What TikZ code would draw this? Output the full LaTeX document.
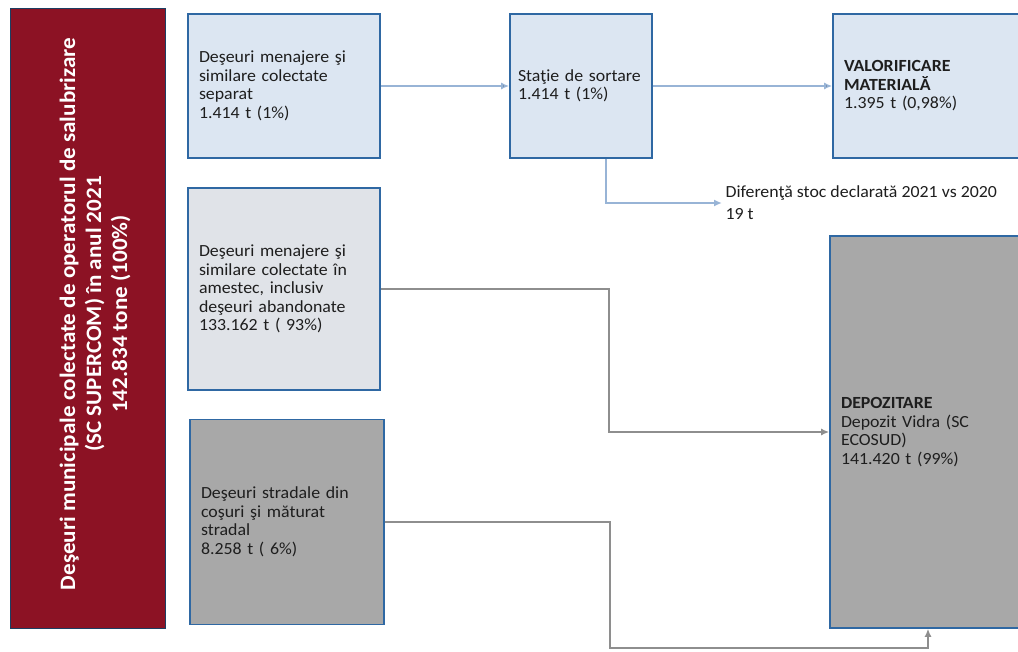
\documentclass[tikz,border=0pt]{standalone}
\usepackage{fontspec}
\setmainfont{Carlito}[FakeStretch=1.05]
\usetikzlibrary{shapes,arrows,calc,arrows.meta}
\usetikzlibrary{positioning}

\definecolor{totalred}{HTML}{8C1224}
\definecolor{boxline}{HTML}{2F68A3}
\definecolor{lightfill}{HTML}{DCE6F2}
\definecolor{mixfill}{HTML}{E0E3E8}
\definecolor{grayfill}{HTML}{A8A8A8}
\definecolor{blueflow}{HTML}{98B4D6}
\definecolor{grayflow}{HTML}{8E8E8E}
\definecolor{textgray}{HTML}{1E1E1E}

\begin{document}
\begin{tikzpicture}[x=1pt,y=-1pt,
    box/.style={rectangle, draw=boxline, line width=1.6pt, inner xsep=11pt,
        align=left, text=textgray, font=\fontsize{17}{18.5}\selectfont},
    lightbox/.style={box, fill=lightfill},
    mixbox/.style={box, fill=mixfill},
    graybox/.style={box, fill=grayfill},
    total/.style={rectangle, fill=totalred, draw=boxline!60!black, line width=0.8pt},
    totaltext/.style={text=white, align=center, font=\bfseries\fontsize{22}{26}\selectfont},
    blueline/.style={draw=blueflow, line width=2.6pt, -{Latex[length=8pt,width=7pt]}},
    grayline/.style={draw=grayflow, line width=2.4pt, -{Latex[length=8pt,width=7pt]}}]
            \useasboundingbox (0,0) rectangle (1018,652);
            \draw (87.5,318) node[total, minimum width=155pt, minimum height=620pt] (total) {};
            \draw (95,314) node[totaltext, rotate=90] (totaltxt)
                {Deşeuri municipale colectate de operatorul de salubrizare\\(SC SUPERCOM) în anul 2021\\142.834 tone (100\%)};
            \draw (284,86) node[lightbox, text width=170pt, minimum height=144pt] (sep)
                {Deşeuri menajere şi\\similare colectate\\separat\\1.414 t (1\%)};
            \draw (284,289) node[mixbox, text width=170pt, minimum height=202pt] (mix)
                {Deşeuri menajere şi\\similare colectate în\\amestec, inclusiv\\deşeuri abandonate\\133.162 t ( 93\%)\\[6pt]};
            \draw (287,522) node[graybox, text width=172pt, minimum height=205pt] (str)
                {Deşeuri stradale din\\coşuri şi măturat\\stradal\\8.258 t ( 6\%)};
            \draw (581,86) node[lightbox, inner xsep=8pt, text width=126pt, minimum height=144pt] (sort)
                {Staţie de sortare\\1.414 t (1\%)};
            \draw (927.5,86) node[lightbox, text width=167pt, minimum height=144pt] (val)
                {\textbf{VALORIFICARE}\\\textbf{MATERIALĂ}\\1.395 t (0,98\%)};
            \draw (926,432) node[graybox, text width=170pt, minimum height=392pt] (dep)
                {\textbf{DEPOZITARE}\\Depozit Vidra (SC\\ECOSUD)\\141.420 t (99\%)};
            \draw (722,203) node[anchor=west, align=left, text=textgray,
                font=\fontsize{17}{22}\selectfont] (dif)
                {Diferenţă stoc declarată 2021 vs 2020\\19 t};
            \path[blueline]
            (sep) edge (sort)
            (sort) edge (val);
            \draw[blueline] ([xshift=25pt]sort.south) |- (dif.west);
            \draw[grayline] (mix.east) -- ++(228,0) |- (dep.west);
            \draw[grayline] (str.east) -- ++(225,0) -- ++(0,126) -| ([xshift=2pt]dep.south);
        \end{tikzpicture}
\end{document}
